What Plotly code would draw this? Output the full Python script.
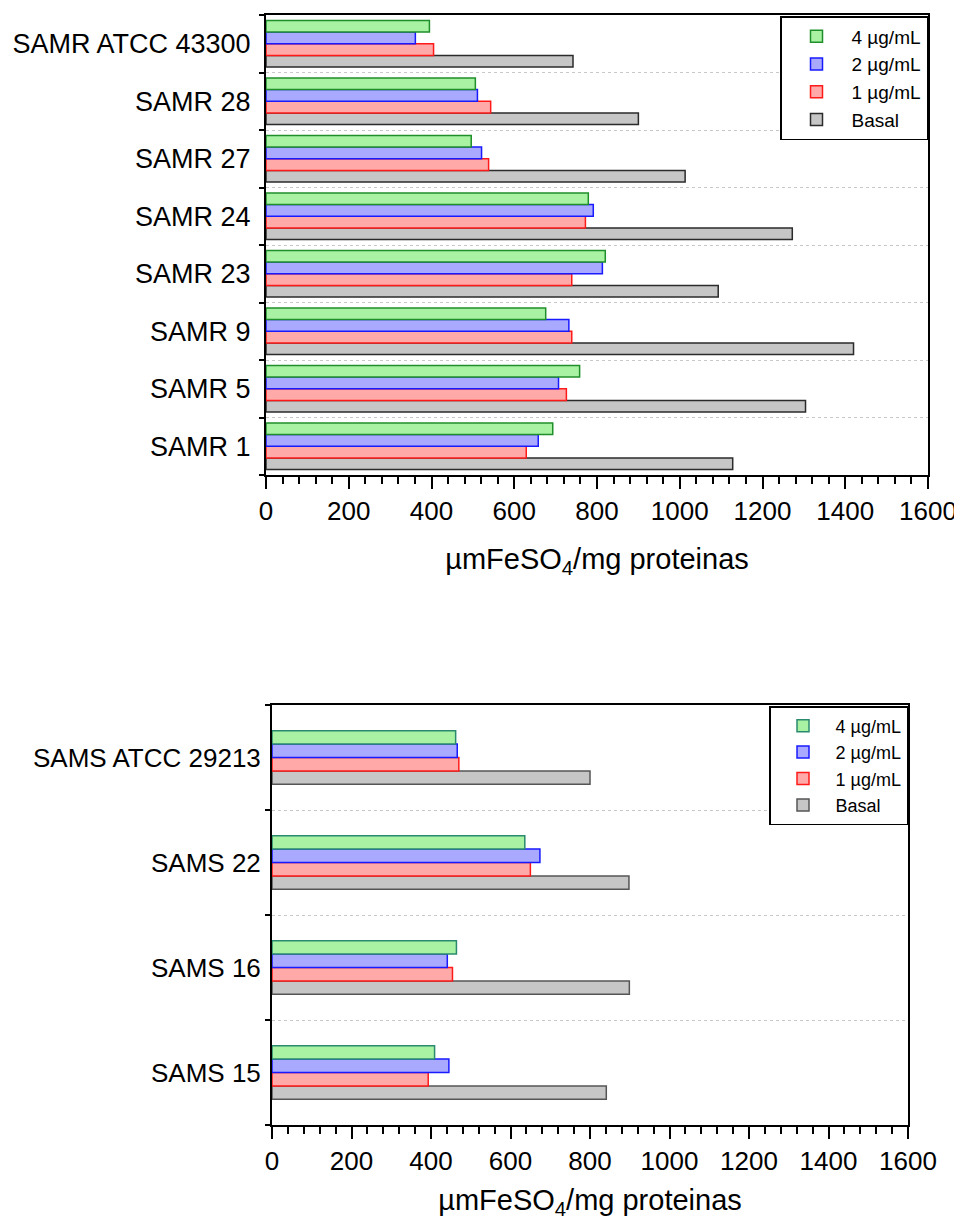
import plotly.graph_objects as go

# ---------------- data ----------------
samr_categories = ["SAMR 1", "SAMR 5", "SAMR 9", "SAMR 23", "SAMR 24", "SAMR 27", "SAMR 28", "SAMR ATCC 43300"]
samr_basal = [1128, 1304, 1420, 1093, 1272, 1013, 900, 742]
samr_1ug = [629, 726, 739, 739, 772, 538, 543, 405]
samr_2ug = [658, 707, 732, 813, 791, 521, 511, 361]
samr_4ug = [693, 758, 676, 820, 779, 496, 506, 395]

sams_categories = ["SAMS 15", "SAMS 16", "SAMS 22", "SAMS ATCC 29213"]
sams_basal = [841, 899, 898, 800]
sams_1ug = [393, 454, 650, 470]
sams_2ug = [445, 441, 674, 466]
sams_4ug = [409, 464, 636, 462]

series_names = ["Basal", "1 µg/mL", "2 µg/mL", "4 µg/mL"]
x_ticks = [0, 200, 400, 600, 800, 1000, 1200, 1400, 1600]

# ---------------- styles ----------------
FONT = "Liberation Sans, Arial, Helvetica, sans-serif"
fills = ["#c6c6c6", "#ffa9a9", "#a9a9ff", "#a9f2a4"]
lines_top = ["#2b2b2b", "#ff1a1a", "#1a1aff", "#1f8f2a"]
lines_bot = ["#555555", "#ff1a1a", "#1a1aff", "#2a8a6e"]

W, H = 962, 1216
OFF = 8  # page body margin
top_px = dict(x0=266, x1=928, y0=15, y1=475)
bot_px = dict(x0=272, x1=908, y0=705, y1=1125)


def px_x(v):
    return (v - OFF) / W


def px_y(v):
    return 1 - (v - OFF) / H


def dom_x(p):
    return [px_x(p["x0"]), px_x(p["x1"])]


def dom_y(p):
    return [px_y(p["y1"]), px_y(p["y0"])]


fig = go.Figure()

top_data = [samr_basal, samr_1ug, samr_2ug, samr_4ug]
bot_data = [sams_basal, sams_1ug, sams_2ug, sams_4ug]

top_total = 0.81
bot_total = 0.51
for i, (name, vals) in enumerate(zip(series_names, top_data)):
    w = top_total / 4
    fig.add_trace(go.Bar(
        x=vals, y=samr_categories, orientation="h", name=name,
        xaxis="x", yaxis="y", legend="legend",
        width=w, offset=-top_total / 2 + i * w,
        marker=dict(color=fills[i], line=dict(color=lines_top[i], width=1.5)),
    ))
for i, (name, vals) in enumerate(zip(series_names, bot_data)):
    w = bot_total / 4
    fig.add_trace(go.Bar(
        x=vals, y=sams_categories, orientation="h", name=name,
        xaxis="x2", yaxis="y2", legend="legend2",
        width=w, offset=-bot_total / 2 + i * w,
        marker=dict(color=fills[i], line=dict(color=lines_bot[i], width=1.5)),
    ))

xcommon = dict(
    range=[0, 1600], tickvals=x_ticks, ticks="outside", ticklen=12, tickwidth=2,
    tickcolor="black", showgrid=False, zeroline=False, showline=True,
    linewidth=2, linecolor="black", mirror=True, automargin=False,
    tickfont=dict(family=FONT, size=26, color="black"), ticklabelstandoff=0,
    minor=dict(dtick=40, tick0=0, ticks="outside", ticklen=7, tickwidth=1.5, tickcolor="black", showgrid=False),
    fixedrange=True,
)
ycommon = dict(
    type="category", tickson="boundaries", ticks="outside", ticklen=5, tickwidth=2,
    tickcolor="black", showgrid=True, gridcolor="#c8c8c8", griddash="dot", gridwidth=1,
    showline=True, linewidth=2, linecolor="black", mirror=True, zeroline=False,
    automargin=False,
)
# overlay axes providing the inner half of the crossing category ticks
yinner = dict(
    type="category", tickson="boundaries", ticks="inside", ticklen=6, tickwidth=2,
    tickcolor="black", showgrid=False, showline=False, zeroline=False,
    showticklabels=False, automargin=False, side="left",
)

title_text = "µmFeSO<sub>4</sub>/mg proteinas"

fig.update_layout(
    width=W, height=H, margin=dict(l=0, r=0, t=0, b=0),
    paper_bgcolor="white", plot_bgcolor="white",
    barmode="overlay",
    font=dict(family=FONT, color="black"),
    xaxis=dict(domain=dom_x(top_px), anchor="y", **xcommon,
               title=dict(text=title_text, font=dict(family=FONT, size=29), standoff=23)),
    yaxis=dict(domain=dom_y(top_px), anchor="x", categoryorder="array",
               categoryarray=samr_categories, **ycommon,
               tickfont=dict(family=FONT, size=27, color="black"), ticklabelstandoff=8),
    yaxis3=dict(domain=dom_y(top_px), anchor="x", overlaying="y", categoryorder="array",
                categoryarray=samr_categories, range=[-0.5, len(samr_categories) - 0.5], **yinner),
    xaxis2=dict(domain=dom_x(bot_px), anchor="y2", **xcommon,
                title=dict(text=title_text, font=dict(family=FONT, size=29), standoff=14)),
    yaxis2=dict(domain=dom_y(bot_px), anchor="x2", categoryorder="array",
                categoryarray=sams_categories, **ycommon,
                tickfont=dict(family=FONT, size=26, color="black"), ticklabelstandoff=4),
    yaxis4=dict(domain=dom_y(bot_px), anchor="x2", overlaying="y2", categoryorder="array",
                categoryarray=sams_categories, range=[-0.5, len(sams_categories) - 0.5], **yinner),
    legend=dict(x=px_x(top_px["x1"]), xanchor="right", y=px_y(16), yanchor="top",
                traceorder="reversed", bgcolor="white", bordercolor="black", borderwidth=1.5,
                font=dict(family=FONT, size=19, color="black"), itemwidth=60,
                tracegroupgap=0),
    legend2=dict(x=px_x(bot_px["x1"]), xanchor="right", y=px_y(706), yanchor="top",
                 traceorder="reversed", bgcolor="white", bordercolor="black", borderwidth=1.5,
                 font=dict(family=FONT, size=18, color="black"), itemwidth=55,
                 tracegroupgap=0),
    showlegend=True,
)

fig.write_html("out.html")
